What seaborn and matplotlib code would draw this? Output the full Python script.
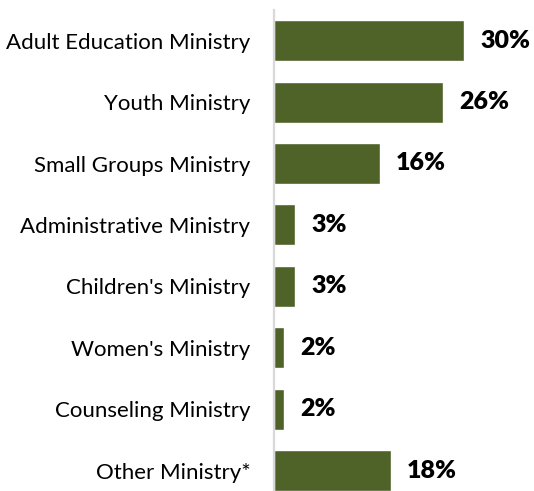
import matplotlib
matplotlib.use("Agg")
import matplotlib.pyplot as plt
import seaborn as sns
import pandas as pd

categories = ["Adult Education Ministry", "Youth Ministry", "Small Groups Ministry",
              "Administrative Ministry", "Children's Ministry", "Women's Ministry",
              "Counseling Ministry", "Other Ministry*"]
values = [29.9, 26.5, 16.6, 3.3, 3.3, 1.6, 1.6, 18.3]
value_labels = ["30%", "26%", "16%", "3%", "3%", "2%", "2%", "18%"]

sns.set_theme(style="white")
plt.rcParams['font.family'] = ['Lato', 'DejaVu Sans']

W, H = 534, 491
fig = plt.figure(figsize=(W / 100, H / 100), dpi=100)
ax = fig.add_axes([274 / W, 0, (W - 274) / W, 481 / H])

df = pd.DataFrame({"cat": categories, "val": values})
sns.barplot(data=df, x="val", y="cat", orient="h", color="#4f6228",
            saturation=1, width=0.67, ax=ax)

ax.set_xlim(0, 260 / 6.37)
ax.set_ylim(7 + 20.5 / 61.4, -0.5)
for s in ["top", "right", "bottom"]:
    ax.spines[s].set_visible(False)
ax.spines["left"].set_color("#d9d9d9")
ax.spines["left"].set_linewidth(1.6)
ax.set_xticks([])
ax.set_xlabel("")
ax.set_ylabel("")
ax.tick_params(axis="y", length=0, pad=17, labelsize=16, labelcolor="#000000")

for i, (v, lab) in enumerate(zip(values, value_labels)):
    ax.annotate(lab, xy=(v, i), xytext=(11.5, 0), textcoords="offset points",
                ha="left", va="center", fontsize=18, fontweight="heavy",
                color="#000000", annotation_clip=False)

fig.savefig("out.png", dpi=100)
